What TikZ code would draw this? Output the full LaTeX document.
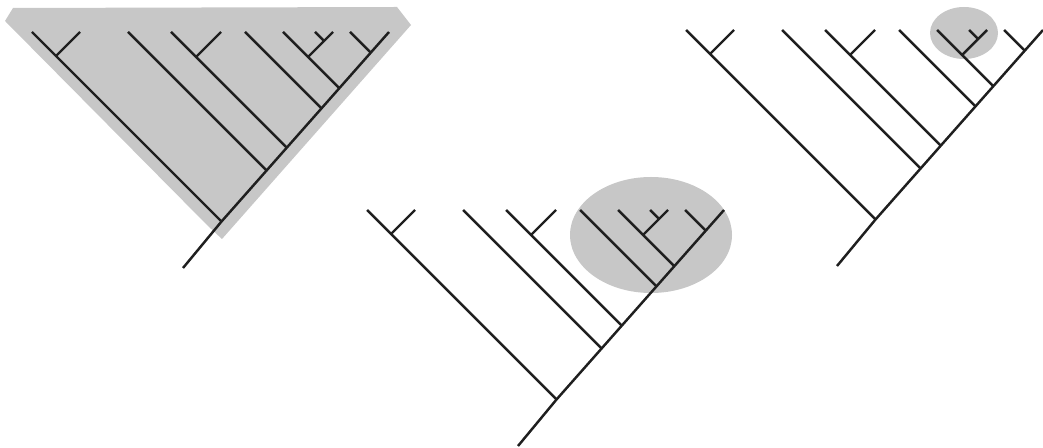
\documentclass[tikz,border=0pt]{standalone}
\begin{document}
\begin{tikzpicture}[x=0.02cm, y=-0.02cm,
  branch/.style={line width=1.4pt, draw=black!88},
  hilite/.style={fill=black!22, draw=none},
  cladogram/.pic={
    % tips
    \coordinate (A) at (32,32); \coordinate (B) at (80,32);
    \coordinate (C) at (128,32); \coordinate (D) at (171,32);
    \coordinate (E) at (221,32); \coordinate (F) at (245,32);
    \coordinate (G) at (283,32); \coordinate (H) at (315,32);
    \coordinate (I) at (333,32); \coordinate (J) at (350,32);
    \coordinate (K) at (389,32);
    % inner nodes
    \coordinate (base) at (183,268); \coordinate (root) at (221.5,221.5);
    \coordinate (ab) at (56,56); \coordinate (de) at (196,57);
    \coordinate (ghi) at (308,57); \coordinate (hi) at (324,41);
    \coordinate (nC) at (266.6,170.6); \coordinate (nD) at (286.7,147.7);
    \coordinate (nF) at (321.4,108.4); \coordinate (nG) at (339.3,88.3);
    \coordinate (nJ) at (370.8,52.8);
    \draw[branch] (base) -- (root) -- (K);
    \draw[branch] (A) -- (root); \draw[branch] (ab) -- (B);
    \draw[branch] (C) -- (nC);
    \draw[branch] (D) -- (nD); \draw[branch] (de) -- (E);
    \draw[branch] (F) -- (nF);
    \draw[branch] (G) -- (nG); \draw[branch] (ghi) -- (I);
    \draw[branch] (hi) -- (H);
    \draw[branch] (J) -- (nJ);
  }]
  \useasboundingbox (0,0) rectangle (1043,448);
  % shaded groups
  \fill[hilite] (5,21) -- (13,8) -- (397,7) -- (411,25) -- (222,239) -- (208,226) -- cycle;
  \fill[hilite] (651,235) ellipse [x radius=81, y radius=58];
  \fill[hilite] (964,33) ellipse [x radius=34, y radius=26];
  % the three trees
  \pic (L-) at (0,0) {cladogram};
  \pic (M-) at (335,178) {cladogram};
  \pic (R-) at (654,-2) {cladogram};
\end{tikzpicture}
\end{document}
